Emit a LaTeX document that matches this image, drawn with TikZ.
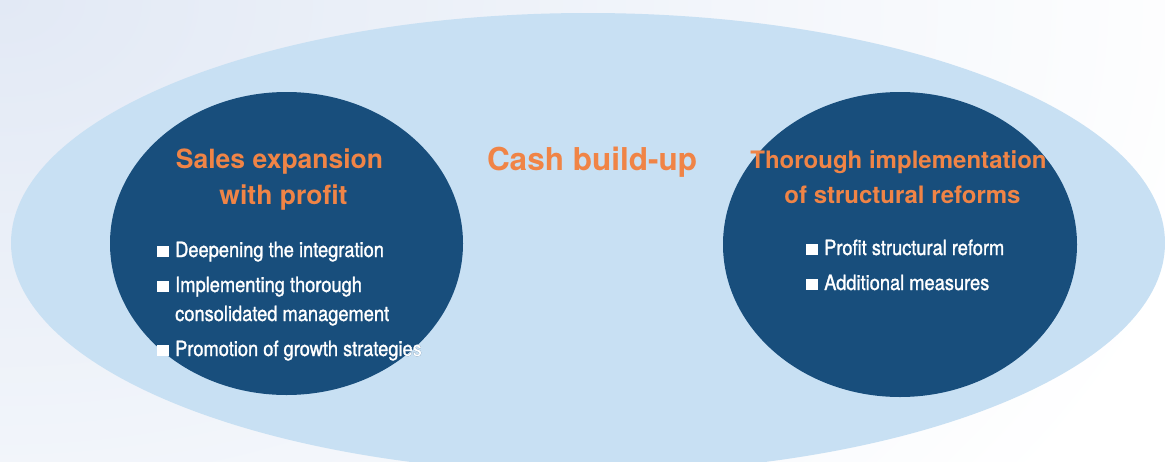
\documentclass[tikz,border=0pt]{standalone}
\usepackage{fontspec}
\setmainfont{TeX Gyre Heros}
\newfontfamily\narrowfont[FakeStretch=0.87,FakeBold=1.3]{TeX Gyre Heros}
\usepackage[outline]{contour}
\usetikzlibrary{shapes.geometric}

\definecolor{bgtint}{RGB}{226,233,245}
\definecolor{paleblue}{RGB}{200,224,243}
\definecolor{navy}{RGB}{24,78,124}
\definecolor{tangerine}{RGB}{240,132,70}

\tikzset{
  oval/.style={ellipse, inner sep=0pt, draw=none},
  title/.style={anchor=base, text=tangerine, font=\bfseries\fontsize{#1}{#1}\selectfont},
  item/.style={anchor=base west, text=white, inner sep=0pt, font=\narrowfont\fontsize{21}{21}\selectfont},
}
\newcommand{\sqbullet}{\rule{12pt}{11pt}\hspace{6pt}}
\contourlength{0.8pt}

\begin{document}
\begin{tikzpicture}[x=1pt,y=-1pt]
     \useasboundingbox (0,0) rectangle (1165,461);
     % soft tint in the upper left corner
     \begin{scope}
       \clip (0,0) rectangle (1165,461);
       \fill[white] (0,0) rectangle (1165,461);
       \shade[inner color=bgtint, outer color=white] (0,0) ellipse [x radius=1250, y radius=850];
     \end{scope}
     \node[oval, fill=paleblue, minimum width=1154pt, minimum height=460pt] (cash) at (588,243) {};
     \node[oval, fill=navy, minimum width=353pt, minimum height=303pt] (sales) at (286.5,243.5) {};
     \node[oval, fill=navy, minimum width=354pt, minimum height=305pt] (reform) at (900,244.5) {};
     % headings
     \node[title=31.5] (cashtitle) at (592,170) {Cash build-up};
     \node[title=26.5] (salestitle) at (279.5,168) {Sales expansion};
     \node[title=26.5] (salestitleb) at (283.5,204) {with profit};
     \node[title=24] (reformtitle) at (898.5,168) {Thorough implementation};
     \node[title=24] (reformtitleb) at (902.5,203) {of structural reforms};
     % left items
     \node[item] (deepen) at (157,257) {\sqbullet Deepening the integration};
     \node[item] (implement) at (157,292) {\sqbullet Implementing thorough};
     \node[item] (consol) at (175,321) {consolidated management};
     \node[item] (growth) at (157,356) {\contour{navy}{\sqbullet Promotion of growth strategies}};
     % right items
     \node[item] (profit) at (806,255) {\sqbullet Profit structural reform};
     \node[item] (extra) at (806,290) {\sqbullet Additional measures};
\end{tikzpicture}
\end{document}
